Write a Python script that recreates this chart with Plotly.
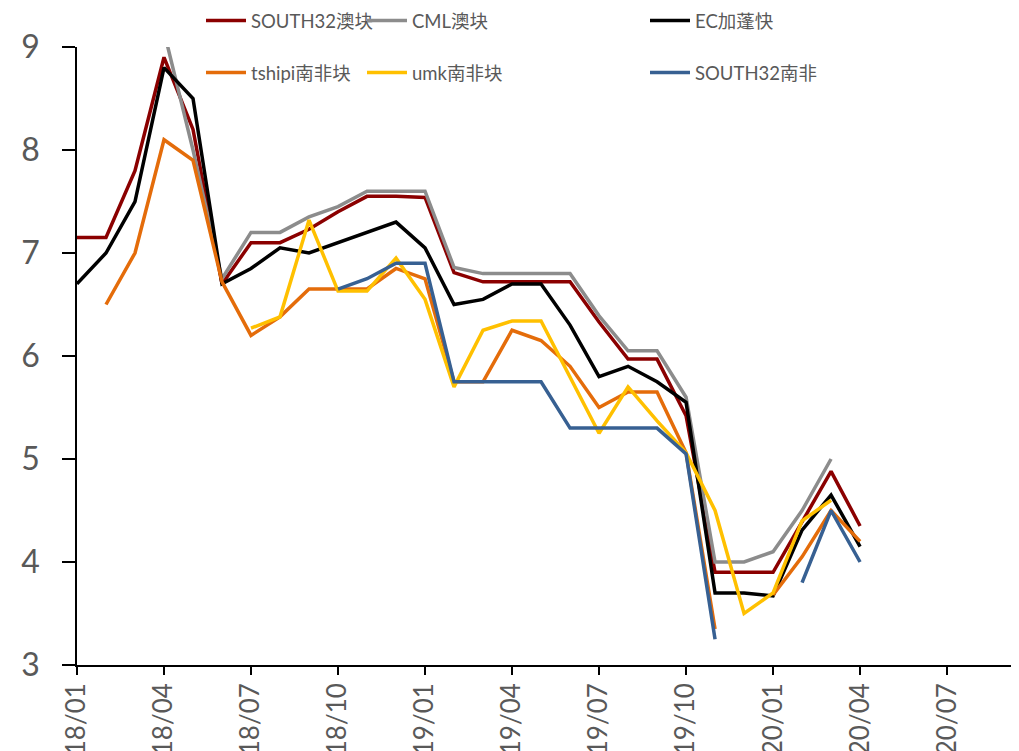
import plotly.graph_objects as go

months = list(range(28))
tick_vals = [0, 3, 6, 9, 12, 15, 18, 21, 24, 27, 30]
tick_text = ["18/01", "18/04", "18/07", "18/10", "19/01", "19/04", "19/07",
             "19/10", "20/01", "20/04", "20/07"]

N = None
south32_au = [7.15, 7.15, 7.8, 8.9, 8.2, 6.7, 7.1, 7.1, 7.23, 7.4, 7.55, 7.55, 7.54,
              6.81, 6.72, 6.72, 6.72, 6.72, 6.33, 5.97, 5.97, 5.42, 3.9, 3.9, 3.9,
              4.39, 4.88, 4.35]
cml_au = [N, N, N, 9.15, 8.0, 6.75, 7.2, 7.2, 7.35, 7.45, 7.6, 7.6, 7.6,
          6.86, 6.8, 6.8, 6.8, 6.8, 6.39, 6.05, 6.05, 5.6, 4.0, 4.0, 4.1,
          4.5, 5.0, N]
ec_gabon = [6.7, 7.0, 7.5, 8.8, 8.5, 6.7, 6.85, 7.05, 7.0, 7.1, 7.2, 7.3, 7.05,
            6.5, 6.55, 6.7, 6.7, 6.3, 5.8, 5.9, 5.75, 5.55, 3.7, 3.7, 3.67,
            4.31, 4.65, 4.15]
tshipi = [N, 6.5, 7.0, 8.1, 7.9, 6.72, 6.2, 6.38, 6.65, 6.65, 6.65, 6.85, 6.75,
          5.75, 5.75, 6.25, 6.15, 5.9, 5.5, 5.65, 5.65, 5.06, 3.35, N, 3.68,
          4.05, 4.5, 4.2]
umk = [N, N, N, N, N, N, 6.27, 6.38, 7.32, 6.63, 6.63, 6.95, 6.55,
       5.7, 6.25, 6.34, 6.34, 5.8, 5.25, 5.7, 5.37, 5.06, 4.5, 3.5, 3.7,
       4.4, 4.6, N]
south32_sa = [N, N, N, N, N, N, N, N, N, 6.65, 6.75, 6.9, 6.9,
              5.75, 5.75, 5.75, 5.75, 5.3, 5.3, 5.3, 5.3, 5.05, 3.25, N, N,
              3.8, 4.5, 4.0]

series = [
    ("SOUTH32澳块", south32_au, "#8B0000", "legend"),
    ("CML澳块", cml_au, "#8C8C8C", "legend2"),
    ("EC加蓬快", ec_gabon, "#000000", "legend3"),
    ("tshipi南非块", tshipi, "#E46C0A", "legend"),
    ("umk南非块", umk, "#FFC000", "legend2"),
    ("SOUTH32南非", south32_sa, "#376092", "legend3"),
]

FONT = "Lato, 'Noto Sans CJK SC', sans-serif"
fig = go.Figure()
for i, (name, vals, color, lg) in enumerate(series):
    fig.add_trace(go.Scatter(
        x=months, y=vals, name=name, mode="lines",
        line=dict(color=color, width=3.5),
        connectgaps=False, legend=lg, legendgroup=f"g{i}",
    ))

# page body has an 8px margin, so the figure is drawn from (8, 8)
W, H = 1011, 743
PLOT_H = 618
leg_common = dict(
    xref="container", yref="paper", xanchor="left", yanchor="top",
    orientation="v", bgcolor="rgba(0,0,0,0)", borderwidth=0,
    font=dict(family=FONT, size=18.5, color="#595959"),
    tracegroupgap=25, itemwidth=40,
)
top = (665 - 2) / PLOT_H
fig.update_layout(
    width=W, height=H,
    margin=dict(l=69, r=0, t=39, b=86, autoexpand=False),
    paper_bgcolor="white", plot_bgcolor="white",
    font=dict(family=FONT, color="#595959"),
    legend=dict(x=193 / W, y=top, **leg_common),
    legend2=dict(x=354 / W, y=top, **leg_common),
    legend3=dict(x=637 / W, y=top, **leg_common),
    xaxis=dict(
        range=[0, 32.48], tickmode="array", tickvals=tick_vals, ticktext=tick_text,
        tickangle=-90, ticks="outside", ticklen=8, tickwidth=1.5, tickcolor="black",
        showline=True, linecolor="black", linewidth=1.5, showgrid=False,
        zeroline=False, tickfont=dict(family=FONT, size=26, color="#595959"),
        ticklabelstandoff=-2, automargin=False,
    ),
    yaxis=dict(
        range=[3, 9], dtick=1, ticks="outside", ticklen=13, tickwidth=1.5,
        tickcolor="black", showline=True, linecolor="black", linewidth=1.5,
        showgrid=False, zeroline=False, ticklabelstandoff=16,
        tickfont=dict(family=FONT, size=32, color="#595959"),
        automargin=False,
    ),
)
fig.write_html("out.html")
